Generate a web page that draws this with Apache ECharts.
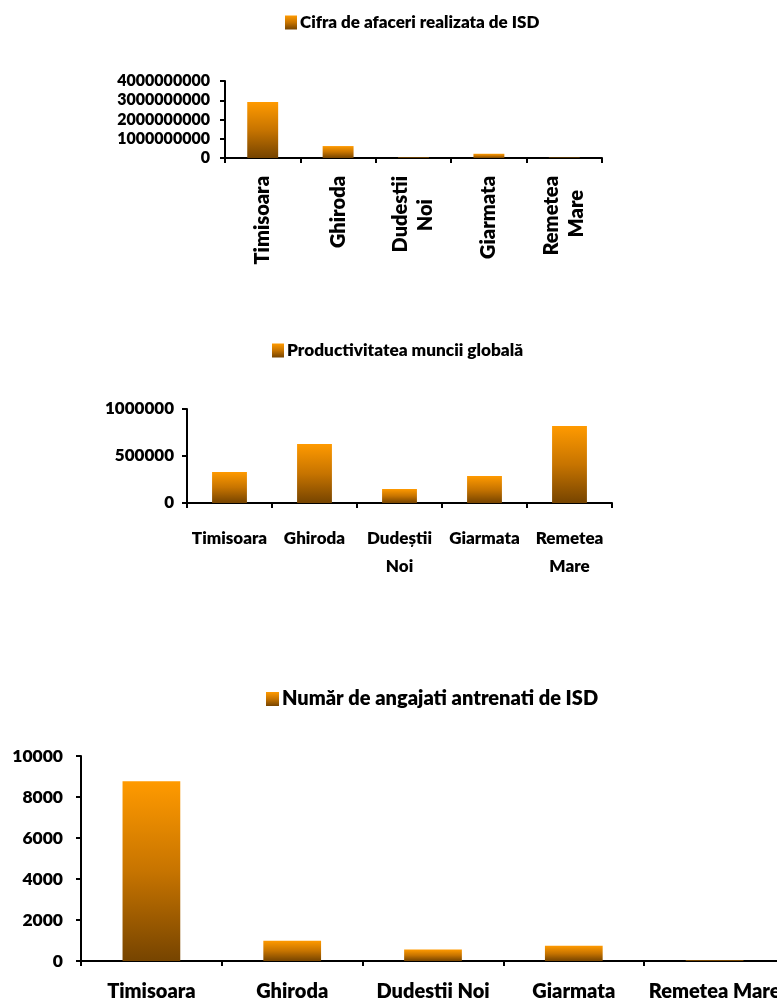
<!DOCTYPE html>
<html>
<head>
<meta charset="utf-8">
<script src="https://cdn.jsdelivr.net/npm/echarts@6/dist/echarts.min.js"></script>
<style>
html,body{margin:0;padding:0;background:#fff;}
#c{width:777px;height:1002px;}
</style>
</head>
<body>
<div id="c"></div>
<script>
const categories1 = ["Timisoara", "Ghiroda", "Dudestii\nNoi", "Giarmata", "Remetea\nMare"];
const categories2 = ["Timisoara", "Ghiroda", "Dudeștii\nNoi", "Giarmata", "Remetea\nMare"];
const categories3 = ["Timisoara", "Ghiroda", "Dudestii Noi", "Giarmata", "Remetea Mare"];

const name1 = "Cifra de afaceri realizata de ISD";
const name2 = "Productivitatea muncii globală";
const name3 = "Număr de angajati antrenati de ISD";

const cifraAfaceri = [2910000000, 620000000, 20000000, 220000000, 15000000];
const productivitate = [330000, 628000, 149000, 287000, 819000];
const angajati = [8770, 990, 560, 740, 30];

const ticks1 = { min: 0, max: 4000000000, interval: 1000000000 };
const ticks2 = { min: 0, max: 1000000, interval: 500000 };
const ticks3 = { min: 0, max: 10000, interval: 2000 };

const FONT = "Lato";
const WEIGHT = 800;
const grad = () => new echarts.graphic.LinearGradient(0, 0, 0, 1, [
  { offset: 0, color: '#FF9A00' },
  { offset: 0.5, color: '#C77400' },
  { offset: 1, color: '#764400' }
]);
const axisLine = { show: true, lineStyle: { color: '#000', width: 2 } };
const axisTick = { show: true, length: 5, lineStyle: { color: '#000', width: 2 } };

function yAxis(gi, t, fs, margin) {
  return {
    type: 'value', gridIndex: gi, min: t.min, max: t.max, interval: t.interval,
    axisLine: axisLine, axisTick: axisTick,
    splitLine: { show: false },
    axisLabel: { fontFamily: FONT, fontWeight: WEIGHT, fontSize: fs, color: '#000', margin: margin,
      formatter: v => String(v) }
  };
}
function xAxis(gi, cats, label) {
  return {
    type: 'category', gridIndex: gi, data: cats,
    axisLine: axisLine, axisTick: axisTick,
    axisLabel: Object.assign({ fontFamily: FONT, fontWeight: WEIGHT, color: '#000', interval: 0 }, label)
  };
}
function legend(name, top, left, fs, iw, ih) {
  return {
    data: [name], top: top, left: left, padding: 0, icon: 'rect', itemWidth: iw, itemHeight: ih, itemGap: 4,
    textStyle: { fontFamily: FONT, fontWeight: WEIGHT, fontSize: fs, color: '#000', padding: [0, 0, 0, -2] },
    selectedMode: false
  };
}
function bars(name, gi, data) {
  return {
    type: 'bar', name: name, xAxisIndex: gi, yAxisIndex: gi, data: data, barWidth: '41%',
    itemStyle: { color: grad() }, silent: true
  };
}
// center the second line of the rotated two-line labels within the block
const rotFmt = v => {
  const parts = v.split('\n');
  if (parts.length < 2) return v;
  const pad = parts[0].length - parts[1].length;
  return parts[0] + '\n' + parts[1] + ' '.repeat(Math.max(0, pad));
};

const chart = echarts.init(document.getElementById('c'), null, { renderer: 'canvas' });
chart.setOption({
  animation: false,
  backgroundColor: '#fff',
  legend: [
    legend(name1, 14, 285, 17, 12, 14),
    legend(name2, 342, 272, 17.2, 12, 14),
    legend(name3, 689, 266, 20, 13, 14)
  ],
  grid: [
    { left: 225, top: 81, width: 377, height: 77, containLabel: false, outerBoundsMode: 'none' },
    { left: 187, top: 409, width: 425, height: 94, containLabel: false, outerBoundsMode: 'none' },
    { left: 81, top: 756, width: 704, height: 205, containLabel: false, outerBoundsMode: 'none' }
  ],
  xAxis: [
    xAxis(0, categories1, { rotate: 90, fontSize: 20, margin: 18, lineHeight: 25, formatter: rotFmt }),
    xAxis(1, categories2, { fontSize: 17, margin: 22, lineHeight: 28 }),
    xAxis(2, categories3, { fontSize: 20, margin: 21 })
  ],
  yAxis: [
    yAxis(0, ticks1, 16, 15),
    yAxis(1, ticks2, 17, 13),
    yAxis(2, ticks3, 17.5, 18)
  ],
  series: [
    bars(name1, 0, cifraAfaceri),
    bars(name2, 1, productivitate),
    bars(name3, 2, angajati)
  ]
});
</script>
</body>
</html>
